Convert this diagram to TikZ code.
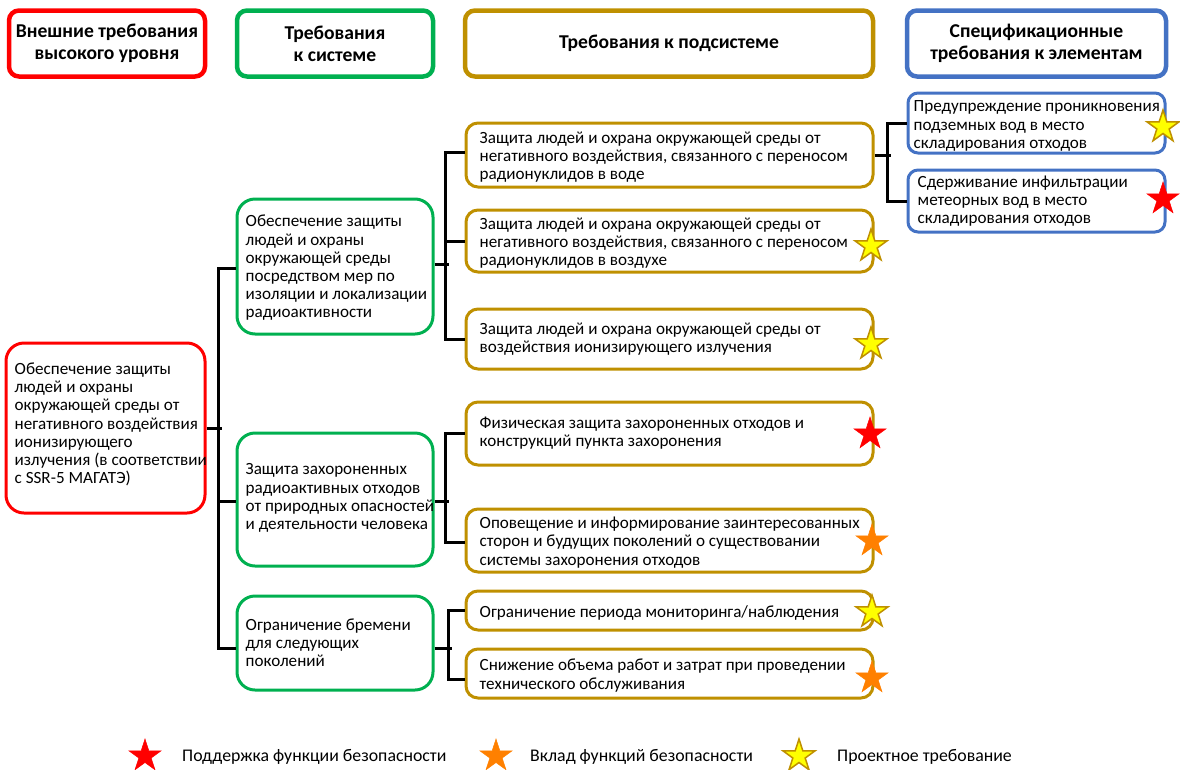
\documentclass[tikz,border=0pt]{standalone}
\usepackage{fontspec}
\setmainfont{Carlito}
\usetikzlibrary{shapes.geometric}
\definecolor{cred}{HTML}{FF0000}
\definecolor{cgreen}{HTML}{00B050}
\definecolor{cgold}{HTML}{BF9000}
\definecolor{cblue}{HTML}{4472C4}
\definecolor{corange}{HTML}{FF8000}
\definecolor{cyellow}{HTML}{FFFF00}
\begin{document}
\begin{tikzpicture}[x=1pt,y=-1pt,
  head/.style={draw, line width=4.5pt, rounded corners=10pt, fill=white,
    align=center, inner sep=0pt, minimum height=66pt,
    font=\bfseries\fontsize{19.6}{22}\selectfont},
  frame/.style={draw, line width=3pt, fill=white, inner sep=0pt},
  txt/.style={align=left, inner sep=0pt, anchor=west,
    font=\fontsize{17.1}{18.2}\selectfont},
  legtxt/.style={txt, font=\fontsize{17.8}{19}\selectfont},
  conn/.style={line width=3pt, black},
  starbase/.style={star, star points=5, star point ratio=2.618,
    minimum size=34pt, inner sep=0pt},
  supstar/.style={starbase, fill=cred, draw=cred, line width=0.5pt},
  contstar/.style={starbase, fill=corange, draw=corange, line width=0.5pt},
  designstar/.style={starbase, fill=cyellow, draw=cgold, line width=1.5pt},
]
\useasboundingbox (0,0) rectangle (1180,769);

% column headers
\node[head, draw=cred, minimum width=196pt] (H1) at (107,43.5) {Внешние требования\\высокого уровня};
\node[head, draw=cgreen, minimum width=196pt] (H2) at (335,43.5) {Требования\\к системе};
\node[head, draw=cgold, minimum width=408pt] (H3) at (669,43.5) {Требования к подсистеме};
\node[head, draw=cblue, minimum width=259pt] (H4) at (1036.5,43.5) {Спецификационные\\требования к элементам};

% high-level requirement
\node[frame, draw=cred, rounded corners=18pt, minimum width=199pt, minimum height=170pt] (R) at (105.5,428) {};
\node[txt] (Rt) at ([xshift=10pt, yshift=3.5pt]R.west) {Обеспечение защиты\\людей и охраны\\окружающей среды от\\негативного воздействия\\ионизирующего\\излучения (в соответствии\\с SSR-5 МАГАТЭ)};

% system requirements
\node[frame, draw=cgreen, rounded corners=18pt, minimum width=196pt, minimum height=135pt] (G1) at (335,266.5) {};
\node[txt] (G1t) at ([xshift=10pt, yshift=-1.5pt]G1.west) {Обеспечение защиты\\людей и охраны\\окружающей среды\\посредством мер по\\изоляции и локализации\\радиоактивности};
\node[frame, draw=cgreen, rounded corners=18pt, minimum width=196pt, minimum height=133pt] (G2) at (335,499.5) {};
\node[txt] (G2t) at ([xshift=10pt, yshift=1.5pt]G2.west) {Защита захороненных\\радиоактивных отходов\\от природных опасностей\\и деятельности человека};
\node[frame, draw=cgreen, rounded corners=18pt, minimum width=196pt, minimum height=94pt] (G3) at (335,643) {};
\node[txt] (G3t) at ([xshift=10pt]G3.west) {Ограничение бремени\\для следующих\\поколений};

% subsystem requirements
\tikzset{sub/.style={frame, draw=cgold, rounded corners=12pt, minimum width=407pt}}
\node[sub, minimum height=64pt] (S1) at (669.5,155) {};
\node[txt] (S1t) at ([xshift=15pt, yshift=-2pt]S1.west) {Защита людей и охрана окружающей среды от\\негативного воздействия, связанного с переносом\\радионуклидов в воде};
\node[sub, minimum height=62pt] (S2) at (669.5,241) {};
\node[txt] (S2t) at ([xshift=15pt, yshift=-2pt]S2.west) {Защита людей и охрана окружающей среды от\\негативного воздействия, связанного с переносом\\радионуклидов в воздухе};
\node[sub, minimum height=60pt] (S3) at (669.5,339) {};
\node[txt] (S3t) at ([xshift=15pt]S3.west) {Защита людей и охрана окружающей среды от\\воздействия ионизирующего излучения};
\node[sub, minimum height=63pt] (S4) at (669.5,433.5) {};
\node[txt] (S4t) at ([xshift=15pt]S4.west) {Физическая защита захороненных отходов и\\конструкций пункта захоронения};
\node[sub, minimum height=63pt] (S5) at (669.5,540.5) {};
\node[txt] (S5t) at ([xshift=15pt, yshift=-2pt]S5.west) {Оповещение и информирование заинтересованных\\сторон и будущих поколений о существовании\\системы захоронения отходов};
\node[sub, minimum height=39pt] (S6) at (669.5,610.5) {};
\node[txt] (S6t) at ([xshift=15pt, yshift=-2pt]S6.west) {Ограничение периода мониторинга/наблюдения};
\node[sub, minimum height=49pt] (S7) at (669.5,673.5) {};
\node[txt] (S7t) at ([xshift=15pt, yshift=-2pt]S7.west) {Снижение объема работ и затрат при проведении\\технического обслуживания};

% element specification requirements
\tikzset{elem/.style={frame, draw=cblue, rounded corners=10pt, minimum width=257pt}}
\node[elem, minimum height=60pt] (B1) at (1036.5,123) {};
\node[txt] (B1t) at ([xshift=7pt, yshift=-3pt]B1.west) {Предупреждение проникновения\\подземных вод в место\\складирования отходов};
\node[elem, minimum height=62pt] (B2) at (1036.5,201) {};
\node[txt] (B2t) at ([xshift=11pt]B2.west) {Сдерживание инфильтрации\\метеорных вод в место\\складирования отходов};

% connectors
\draw[conn] (R.east) -- ++(15,0);
\draw[conn] ([yshift=-1.5pt]G1.west) -- ++(-17,0) |- ([yshift=-5pt]G3.west);
\draw[conn] ([yshift=-1.5pt]G2.west) -- ++(-17,0);

\draw[conn] ([yshift=2.5pt]G1.east) -- ++(14,0);
\draw[conn] ([yshift=3pt]S1.west) -- ++(-19,0) |- (S3.west);
\draw[conn] (S2.west) -- ++(-19,0);

\draw[conn] ([yshift=-1.5pt]G2.east) -- ++(14,0);
\draw[conn] (S4.west) -- ++(-19,0) |- ([yshift=-1.5pt]S5.west);

\draw[conn] ([yshift=-5pt]G3.east) -- ++(17,0);
\draw[conn] (S6.west) -- ++(-16,0) |- ([yshift=-5.5pt]S7.west);

\draw[conn] (S1.east) -- ++(16,0);
\draw[conn] (B1.west) -- ++(-19,0) |- (B2.west);

% function markers
\node[designstar] (st1) at (1163,127) {};
\node[supstar] (st2) at (1163,199) {};
\node[designstar] (st3) at (871,246) {};
\node[designstar] (st4) at (871,344) {};
\node[supstar] (st5) at (870,434) {};
\node[contstar] (st6) at (872,541) {};
\node[designstar] (st7) at (872,612) {};
\node[contstar] (st8) at (872,678) {};

% legend
\node[supstar] (lg1) at (145,756) {};
\node[legtxt] (lt1) at (182,757) {Поддержка функции безопасности};
\node[contstar] (lg2) at (496,756) {};
\node[legtxt] (lt2) at (530,757) {Вклад функций безопасности};
\node[designstar] (lg3) at (799,756) {};
\node[legtxt] (lt3) at (837,757) {Проектное требование};
\end{tikzpicture}
\end{document}
